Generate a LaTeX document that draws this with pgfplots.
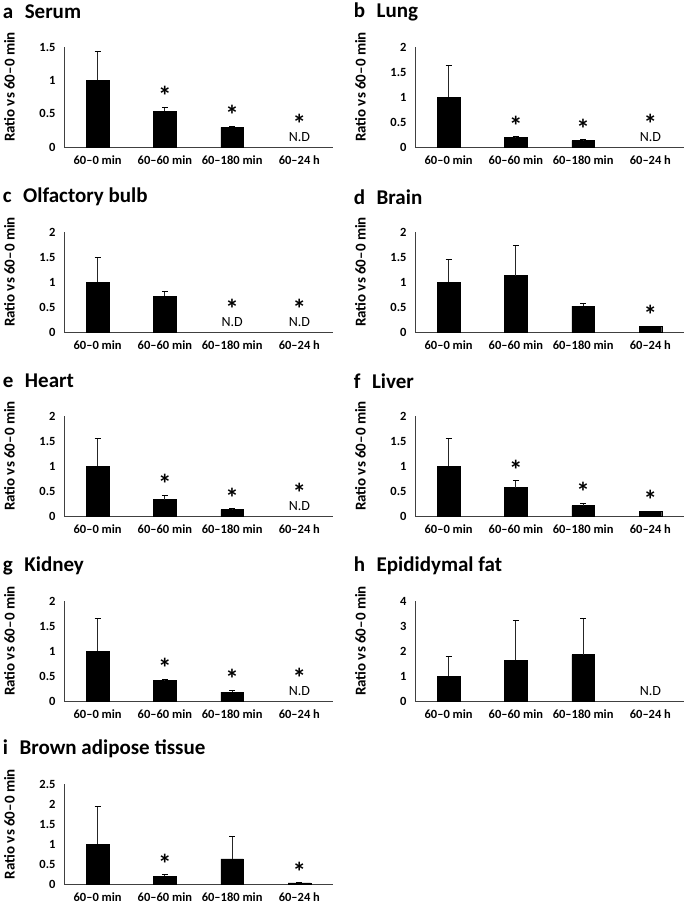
\documentclass[border=0pt]{standalone}
\usepackage{fontspec}
\setmainfont{Carlito}
\usepackage{pgfplots}
\pgfplotsset{compat=1.18}

\pgfplotsset{
 panel/.style={
  scale only axis, width=269pt, height=100pt,
  xmin=-0.5, xmax=3.5, ymin=0,
  axis x line*=bottom, axis y line*=left,
  axis line style={-, black!75, line width=0.8pt},
  xtick={0,1,2,3},
  xticklabels={60--0 min,60--60 min,60--180 min,60--24 h},
  major tick length=0pt,
  /pgf/number format/assume math mode=true,
  tick label style={font=\bfseries\fontsize{12.5}{14}\selectfont, black},
  yticklabel style={xshift=-5pt},
  xticklabel style={yshift=-5pt},
  ylabel={Ratio vs 60--0 min},
  ylabel style={font=\bfseries\fontsize{15}{16}\selectfont, at={(axis description cs:-0.203,0.6)}, anchor=center},
  clip=false,
  ybar, bar width=22.7pt,
  anchor=south west,
 },
 bars/.style={fill=black, draw=black, line width=0.3pt,
  error bars/.cd, y dir=plus, y explicit,
  error bar style={line width=1pt, black!85},
  error mark options={rotate=90, mark size=3pt, line width=1pt, black}},
}
\tikzset{
 sigst/.style={font=\bfseries\fontsize{27}{27}\selectfont, anchor=center, inner sep=0pt},
 ndst/.style={font=\fontsize{14}{14}\selectfont, anchor=center, inner sep=0pt},
 ttl/.style={font=\bfseries\fontsize{21}{23}\selectfont, anchor=west, inner sep=0pt},
}
\newcommand{\astx}{\raisebox{0pt}[0.64em][-0.3em]{*}}
\newcommand{\sig}[2]{\node[sigst, yshift=10pt] at (axis cs:#1,#2) {\astx};}
\newcommand{\sigND}[1]{\node[sigst, yshift=22pt] at (axis cs:#1,0) {\astx};}
\newcommand{\ND}[1]{\node[ndst, yshift=10pt] at (axis cs:#1,0) {N.D};}
\newcommand{\ttl}[2]{\node[ttl] at (rel axis cs:-0.228,1.35) {#1\hspace{0.55em}#2};}

\begin{document}
\begin{tikzpicture}
\useasboundingbox (0,0) rectangle (685pt,-910pt);

% a Serum
\begin{axis}[panel, at={(64pt,-147pt)}, ymax=1.5, ytick={0,0.5,1,1.5}]
\addplot[bars] coordinates {(0,1.0) +- (0,0.43) (1,0.54) +- (0,0.06) (2,0.295) +- (0,0.015)};
\sig{1}{0.60}\sig{2}{0.31}\sigND{3}\ND{3}
\ttl{a}{Serum}
\end{axis}

% b Lung
\begin{axis}[panel, at={(415pt,-147pt)}, ymax=2, ytick={0,0.5,1,1.5,2}]
\addplot[bars] coordinates {(0,1.0) +- (0,0.64) (1,0.19) +- (0,0.02) (2,0.13) +- (0,0.02)};
\sig{1}{0.21}\sig{2}{0.15}\sigND{3}\ND{3}
\ttl{b}{Lung}
\end{axis}

% c Olfactory bulb
\begin{axis}[panel, at={(64pt,-332pt)}, ymax=2, ytick={0,0.5,1,1.5,2}]
\addplot[bars] coordinates {(0,1.0) +- (0,0.49) (1,0.72) +- (0,0.10)};
\sigND{2}\ND{2}\sigND{3}\ND{3}
\ttl{c}{Olfactory bulb}
\end{axis}

% d Brain
\begin{axis}[panel, at={(415pt,-332pt)}, ymax=2, ytick={0,0.5,1,1.5,2}]
\addplot[bars] coordinates {(0,1.0) +- (0,0.46) (1,1.13) +- (0,0.60) (2,0.52) +- (0,0.05) (3,0.11) +- (0,0.01)};
\sig{3}{0.12}
\ttl{d}{Brain}
\end{axis}

% e Heart
\begin{axis}[panel, at={(64pt,-516pt)}, ymax=2, ytick={0,0.5,1,1.5,2}]
\addplot[bars] coordinates {(0,1.0) +- (0,0.56) (1,0.33) +- (0,0.09) (2,0.13) +- (0,0.02)};
\sig{1}{0.42}\sig{2}{0.15}\sigND{3}\ND{3}
\ttl{e}{Heart}
\end{axis}

% f Liver
\begin{axis}[panel, at={(415pt,-516pt)}, ymax=2, ytick={0,0.5,1,1.5,2}]
\addplot[bars] coordinates {(0,1.0) +- (0,0.55) (1,0.57) +- (0,0.14) (2,0.21) +- (0,0.05) (3,0.09) +- (0,0.01)};
\sig{1}{0.71}\sig{2}{0.26}\sig{3}{0.10}
\ttl{f}{Liver}
\end{axis}

% g Kidney
\begin{axis}[panel, at={(64pt,-701pt)}, ymax=2, ytick={0,0.5,1,1.5,2}]
\addplot[bars] coordinates {(0,1.0) +- (0,0.65) (1,0.41) +- (0,0.03) (2,0.18) +- (0,0.04)};
\sig{1}{0.44}\sig{2}{0.22}\sigND{3}\ND{3}
\ttl{g}{Kidney}
\end{axis}

% h Epididymal fat
\begin{axis}[panel, at={(415pt,-701pt)}, ymax=4, ytick={0,1,2,3,4}]
\addplot[bars] coordinates {(0,1.0) +- (0,0.78) (1,1.63) +- (0,1.60) (2,1.86) +- (0,1.44)};
\ND{3}
\ttl{h}{Epididymal fat}
\end{axis}

% i Brown adipose tissue
\begin{axis}[panel, at={(64pt,-884pt)}, ymax=2.5, ytick={0,0.5,1,1.5,2,2.5}]
\addplot[bars] coordinates {(0,1.0) +- (0,0.95) (1,0.19) +- (0,0.04) (2,0.63) +- (0,0.55) (3,0.03) +- (0,0.01)};
\sig{1}{0.23}\sig{3}{0.04}
\ttl{i}{Brown adipose tissue}
\end{axis}
\end{tikzpicture}
\end{document}
